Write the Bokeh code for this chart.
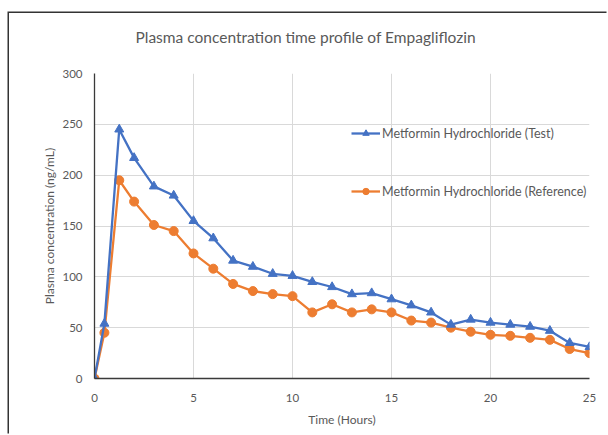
from bokeh.plotting import figure
from bokeh.models import Range1d, Legend, LegendItem, FixedTicker, Title
from bokeh.embed import file_html
from bokeh.resources import INLINE

# ---- data ----
time_h = [0, 0.5, 1.25, 2, 3, 4, 5, 6, 7, 8, 9, 10, 11, 12, 13, 14, 15,
          16, 17, 18, 19, 20, 21, 22, 23, 24, 25]
test_conc = [0, 54, 245, 217, 189, 180, 155, 138, 116, 110, 103, 101, 95, 90,
             83, 84, 78, 72, 65, 53, 58, 55, 53, 51, 47, 35, 31]
ref_conc = [0, 45, 195, 174, 151, 145, 123, 108, 93, 86, 83, 81, 65, 73,
            65, 68, 65, 57, 55, 50, 46, 43, 42, 40, 38, 29, 25]
x_ticks = [0, 5, 10, 15, 20, 25]
y_ticks = [0, 50, 100, 150, 200, 250, 300]
title_text = "Plasma concentration time profile of Empagliflozin"
x_label = "Time (Hours)"
y_label = "Plasma concentration (ng/mL)"
test_label = "Metformin Hydrochloride (Test)"
ref_label = "Metformin Hydrochloride (Reference)"

FONT = "Lato"
GRAY = "#595959"
BLUE = "#4472C4"
ORANGE = "#ED7D31"

# canvas starts at (9, 13) in the page; the chart-box border is drawn as a
# CSS shadow on its top and left edges
p = figure(width=599, height=422, output_backend="svg", toolbar_location=None,
           x_range=Range1d(0, 25), y_range=Range1d(0, 300),
           min_border_left=85, min_border_right=19, min_border_top=60,
           min_border_bottom=57, background_fill_color="white",
           border_fill_color="white", margin=(13, 0, 0, 9),
           styles={"box-shadow": "-1.5px -1.5px 0px #333333"})
p.outline_line_color = None

# spacer between the frame and the title
spacer = Title(text=" ", text_font_size="2px", standoff=24)
p.add_layout(spacer, "above")
t = Title(text=title_text, align="left", offset=41, standoff=0,
          text_font=FONT, text_font_size="15.5px", text_font_style="normal",
          text_color=GRAY)
p.add_layout(t, "above")

for ax in (p.xaxis[0], p.yaxis[0]):
    ax.major_tick_line_color = None
    ax.minor_tick_line_color = None
    ax.axis_line_color = "#3a3a3a"
    ax.axis_line_width = 1.3
    ax.major_label_text_font = FONT
    ax.major_label_text_font_size = "11.5px"
    ax.major_label_text_color = GRAY
    ax.axis_label_text_font = FONT
    ax.axis_label_text_font_size = "12px"
    ax.axis_label_text_font_style = "normal"
    ax.axis_label_text_color = GRAY

p.xaxis.ticker = FixedTicker(ticks=x_ticks)
p.yaxis.ticker = FixedTicker(ticks=y_ticks)
p.xaxis.axis_label = x_label
p.yaxis.axis_label = y_label
p.xaxis.major_label_standoff = 9
p.yaxis.major_label_standoff = 6
p.xaxis.axis_label_standoff = 7
p.yaxis.axis_label_standoff = 2

p.xgrid.ticker = FixedTicker(ticks=x_ticks)
p.ygrid.ticker = FixedTicker(ticks=y_ticks)
p.grid.grid_line_color = "#d9d9d9"
p.grid.grid_line_width = 1

l_ref = p.line(time_h, ref_conc, line_color=ORANGE, line_width=2.3)
s_ref = p.scatter(time_h, ref_conc, marker="circle", size=9,
                  fill_color=ORANGE, line_color=ORANGE)
l_test = p.line(time_h, test_conc, line_color=BLUE, line_width=2.3)
s_test = p.scatter(time_h, test_conc, marker="triangle", size=9,
                   fill_color=BLUE, line_color=BLUE)

legend = Legend(items=[LegendItem(label=test_label, renderers=[l_test, s_test]),
                       LegendItem(label=ref_label, renderers=[l_ref, s_ref])],
                location=(257, 179), orientation="vertical",
                background_fill_alpha=0, border_line_color=None,
                padding=0, margin=0, spacing=42, glyph_width=29,
                glyph_height=16, label_standoff=2, label_height=16,
                label_text_font=FONT, label_text_font_size="12.5px",
                label_text_color=GRAY)
p.add_layout(legend)

open("out.html", "w").write(file_html(p, INLINE))
